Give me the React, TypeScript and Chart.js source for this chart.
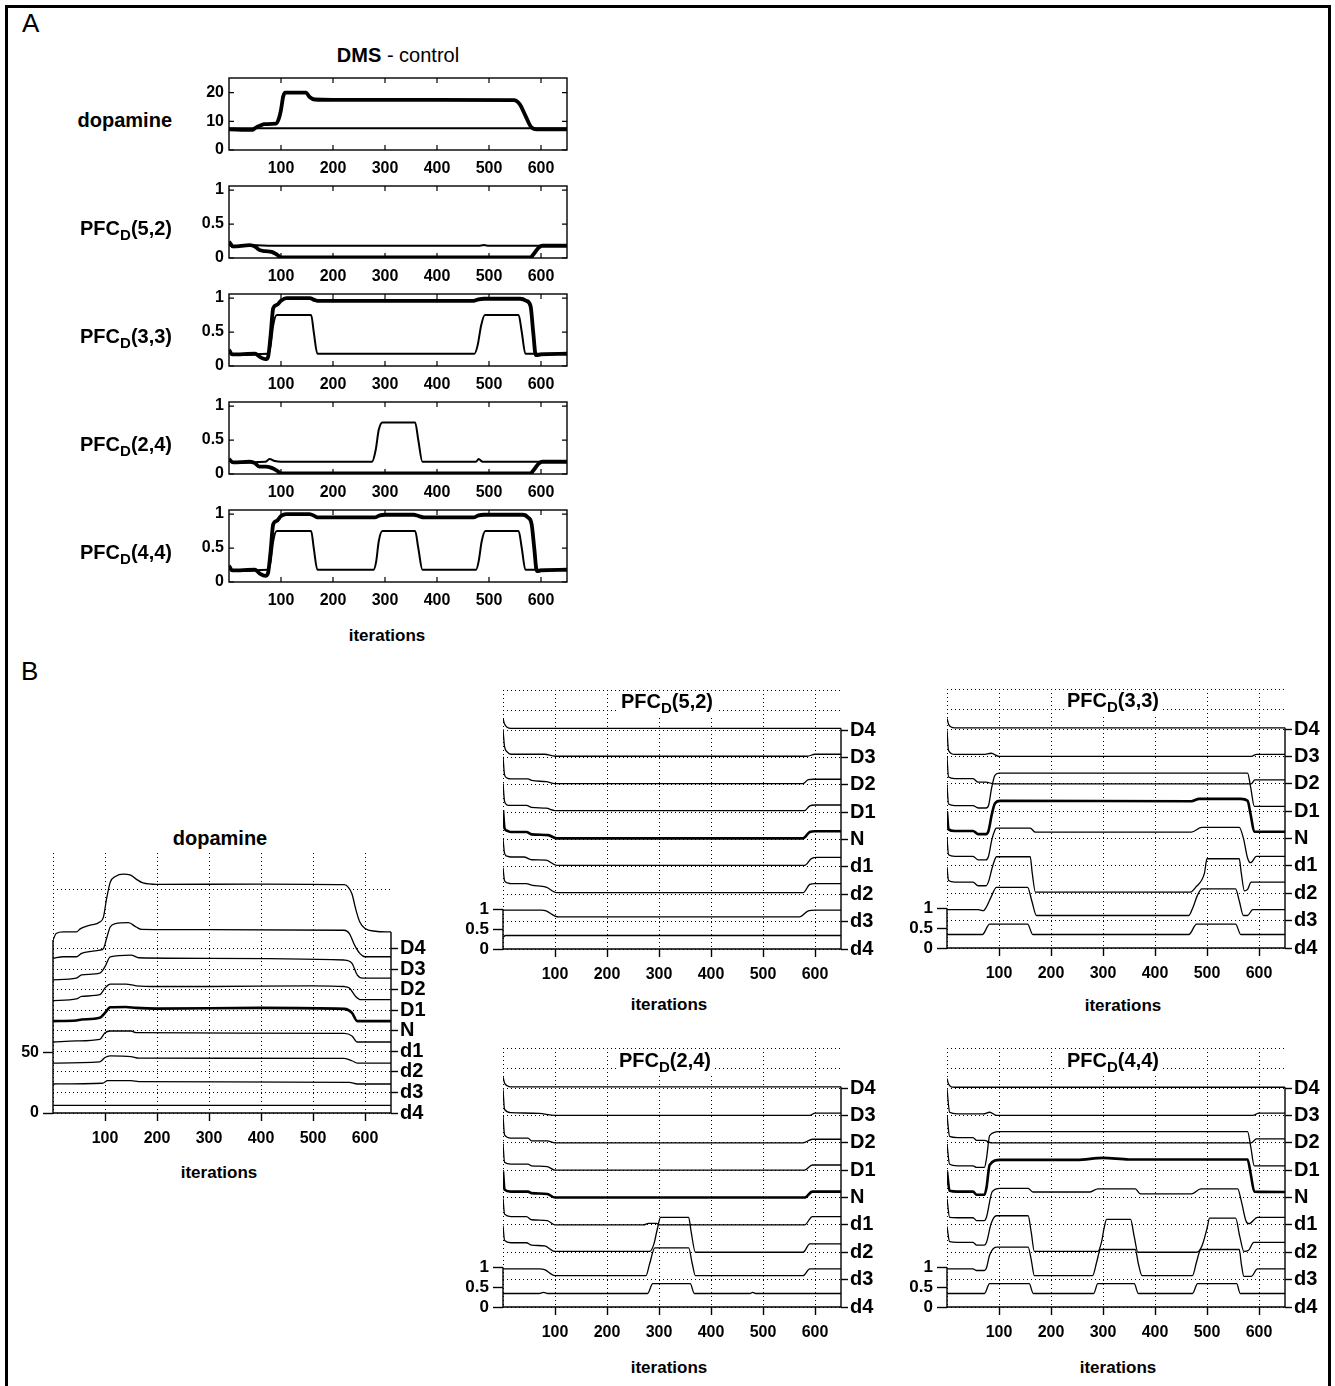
import React, { useEffect, useRef } from 'react';
import { Chart, registerables } from 'chart.js';
Chart.register(...registerables);

const FONT = "'Liberation Sans', Arial, Helvetica, sans-serif";

// ---------------- shared ticks ----------------
const ITER_TICKS = [100, 200, 300, 400, 500, 600];
const A_DOPA_TICKS = [0, 10, 20];
const A_PFC_TICKS = [0, 0.5, 1];
const B_DOPA_LEFT_TICKS = [0, 50];
const B_PFC_LEFT_TICKS = [0, 0.5, 1];
const B_LABELS = ['d4', 'd3', 'd2', 'd1', 'N', 'D1', 'D2', 'D3', 'D4'];
const B_DOPA_OFFSETS = [0, 17, 34, 51, 68, 85, 102, 119, 136];
const B_PFC_OFFSETS = [0, 0.69, 1.38, 2.07, 2.76, 3.45, 4.14, 4.83, 5.52];
const B_DOPA_EXTRA = [185];
const B_PFC_EXTRA = [6.02, 6.53];

// ---------------- Panel A data ----------------
const A_DOPA_THICK = { x: [0, 45, 50, 60, 68, 90, 96, 100, 104, 108, 148, 155, 165, 200, 400, 548, 559, 570, 581, 592, 650], y: [7.2, 7.0, 7.6, 8.5, 9.0, 9.2, 11, 14, 18.5, 20, 20, 18.5, 17.6, 17.5, 17.5, 17.4, 16, 12, 8, 7.2, 7.2] };
const A_DOPA_THIN = { x: [0, 650], y: [7.6, 7.6] };

const A_P52_THICK = { x: [0, 8, 40, 50, 58, 70, 82, 92, 100, 580, 586, 595, 602, 650], y: [0.24, 0.17, 0.19, 0.17, 0.12, 0.1, 0.09, 0.05, 0.01, 0.01, 0.06, 0.15, 0.18, 0.18] };
const A_P52_THIN = { x: [0, 8, 30, 100, 300, 480, 490, 500, 650], y: [0.2, 0.16, 0.19, 0.18, 0.18, 0.18, 0.19, 0.18, 0.18] };

const A_P33_THICK = { x: [0, 6, 50, 60, 70, 75, 80, 85, 92, 100, 110, 155, 165, 170, 470, 480, 490, 560, 572, 580, 585, 590, 600, 650], y: [0.24, 0.17, 0.18, 0.13, 0.1, 0.13, 0.45, 0.85, 0.9, 0.96, 1.0, 1.0, 0.97, 0.96, 0.96, 0.98, 0.99, 0.99, 0.96, 0.88, 0.5, 0.16, 0.17, 0.18] };
const A_P33_THIN = { x: [0, 8, 75, 80, 85, 92, 158, 163, 170, 472, 478, 485, 492, 557, 563, 570, 650], y: [0.2, 0.17, 0.18, 0.3, 0.6, 0.75, 0.75, 0.5, 0.18, 0.18, 0.3, 0.6, 0.75, 0.75, 0.5, 0.18, 0.18] };

const A_P24_THICK = { x: [0, 8, 40, 50, 58, 70, 82, 92, 100, 580, 586, 595, 602, 650], y: [0.22, 0.17, 0.18, 0.16, 0.11, 0.11, 0.09, 0.05, 0.01, 0.01, 0.06, 0.15, 0.18, 0.18] };
const A_P24_THIN = { x: [0, 8, 70, 78, 88, 100, 275, 282, 288, 295, 358, 364, 372, 475, 480, 488, 650], y: [0.2, 0.17, 0.18, 0.22, 0.19, 0.18, 0.18, 0.35, 0.65, 0.76, 0.76, 0.5, 0.18, 0.18, 0.22, 0.18, 0.18] };

const A_P44_THICK = { x: [0, 6, 50, 60, 70, 75, 80, 85, 92, 100, 110, 155, 165, 170, 280, 290, 300, 355, 365, 375, 470, 480, 490, 565, 575, 582, 587, 592, 600, 650], y: [0.24, 0.17, 0.18, 0.12, 0.09, 0.13, 0.45, 0.85, 0.9, 0.97, 1.0, 1.0, 0.97, 0.95, 0.95, 0.98, 0.99, 0.99, 0.97, 0.95, 0.95, 0.98, 0.99, 0.99, 0.95, 0.85, 0.5, 0.16, 0.17, 0.18] };
const A_P44_THIN = { x: [0, 8, 75, 80, 85, 92, 158, 163, 170, 278, 283, 288, 295, 358, 364, 372, 475, 480, 486, 493, 557, 563, 570, 650], y: [0.2, 0.17, 0.18, 0.3, 0.6, 0.75, 0.75, 0.5, 0.18, 0.18, 0.3, 0.6, 0.75, 0.75, 0.5, 0.18, 0.18, 0.3, 0.6, 0.75, 0.75, 0.5, 0.18, 0.18] };

// ---------------- Panel B: dopamine (values relative to each trace's offset) ----------------
const BDA_d4 = { x: [0, 650], y: [6.3, 6.3] };
const BDA_d3 = { x: [0, 95, 105, 150, 165, 570, 585, 650], y: [7, 7.6, 9.8, 9.8, 9, 8.4, 7, 7] };
const BDA_d2 = { x: [0, 90, 100, 110, 150, 165, 560, 575, 585, 650], y: [7.3, 8.3, 11.9, 13.3, 12.7, 11.4, 11.1, 9.2, 7.3, 7.3] };
const BDA_d1 = { x: [0, 45, 90, 100, 110, 150, 160, 560, 575, 585, 650], y: [7.7, 8.6, 9.9, 15.4, 16.8, 16.8, 15.4, 14.8, 12.7, 7.7, 7.7] };
const BDA_N = { x: [0, 45, 55, 90, 100, 110, 140, 160, 200, 400, 560, 575, 585, 650], y: [8, 8.5, 9.3, 10.7, 14.8, 19.4, 19.7, 18.9, 18.3, 18.9, 18.1, 14.8, 8, 8] };
const BDA_D1 = { x: [0, 45, 55, 90, 100, 110, 140, 160, 200, 300, 500, 560, 570, 582, 592, 650], y: [7.9, 9.3, 11.4, 12.8, 18.3, 21.6, 21.6, 20.2, 19.6, 19.6, 20.2, 19.6, 18.3, 11.4, 8.7, 8.7] };
const BDA_D2 = { x: [0, 45, 55, 90, 100, 110, 150, 165, 300, 560, 575, 585, 595, 650], y: [8.1, 9.5, 12.2, 13.6, 19, 27.2, 28.6, 26.4, 25.9, 24.5, 21.8, 12.2, 9.5, 9.5] };
const BDA_D3 = { x: [0, 20, 45, 55, 90, 97, 103, 110, 120, 145, 160, 170, 300, 560, 570, 580, 590, 600, 650], y: [8.9, 10.2, 10.2, 13, 15.7, 17, 25.3, 34.8, 37.6, 38.4, 34.8, 32.9, 32.6, 32.1, 29.4, 19.8, 13, 10.2, 10.2] };
const BDA_D4 = { x: [0, 6, 20, 45, 53, 70, 90, 97, 103, 110, 120, 135, 148, 160, 173, 200, 400, 560, 568, 575, 582, 590, 600, 620, 650], y: [6.9, 12.4, 13.7, 13.7, 16.5, 19.2, 21.9, 26, 41, 54.7, 59.6, 61.5, 61, 57.4, 54.2, 53, 53.3, 52.8, 50.6, 45.1, 32.9, 21.9, 16.5, 14.3, 13.7] };

// ---------------- Panel B: PFC_D(5,2) ----------------
const B52_d4 = { x: [0, 5, 650], y: [0.3, 0.34, 0.34] };
const B52_d3 = { x: [0, 74, 83, 100, 108, 570, 587, 600, 650], y: [0.29, 0.29, 0.27, 0.14, 0.12, 0.12, 0.27, 0.29, 0.29] };
const B52_d2 = { x: [0, 3, 8, 15, 45, 55, 83, 103, 577, 590, 600, 650], y: [0.67, 0.34, 0.29, 0.27, 0.27, 0.23, 0.18, 0.04, 0.04, 0.25, 0.27, 0.27] };
const B52_d1 = { x: [0, 3, 8, 15, 40, 55, 83, 103, 580, 593, 605, 650], y: [0.71, 0.34, 0.27, 0.25, 0.25, 0.18, 0.17, 0.04, 0.04, 0.21, 0.24, 0.24] };
const B52_N = { x: [0, 3, 8, 15, 45, 55, 87, 103, 577, 590, 600, 650], y: [0.74, 0.28, 0.22, 0.19, 0.19, 0.13, 0.11, 0.03, 0.03, 0.19, 0.21, 0.21] };
const B52_D1 = { x: [0, 3, 8, 15, 45, 55, 83, 100, 580, 590, 600, 650], y: [0.73, 0.27, 0.18, 0.17, 0.17, 0.12, 0.1, 0.04, 0.04, 0.16, 0.18, 0.18] };
const B52_D2 = { x: [0, 3, 8, 15, 48, 55, 83, 100, 577, 587, 596, 650], y: [0.71, 0.25, 0.17, 0.15, 0.15, 0.11, 0.08, 0.03, 0.03, 0.13, 0.14, 0.14] };
const B52_D3 = { x: [0, 3, 8, 15, 80, 100, 585, 600, 650], y: [0.71, 0.27, 0.14, 0.08, 0.08, 0.03, 0.03, 0.08, 0.08] };
const B52_D4 = { x: [0, 3, 8, 15, 650], y: [0.3, 0.15, 0.07, 0.04, 0.04] };

// ---------------- Panel B: PFC_D(3,3) ----------------
const B33_d4 = { x: [0, 68, 82, 155, 165, 465, 480, 555, 565, 650], y: [0.34, 0.34, 0.6, 0.6, 0.34, 0.34, 0.6, 0.6, 0.34, 0.34] };
const B33_d3 = { x: [0, 60, 70, 76, 86, 95, 155, 163, 172, 465, 472, 482, 490, 555, 562, 570, 578, 588, 650], y: [0.28, 0.28, 0.25, 0.35, 0.63, 0.84, 0.84, 0.5, 0.13, 0.13, 0.3, 0.65, 0.8, 0.8, 0.5, 0.13, 0.13, 0.28, 0.28] };
const B33_d2 = { x: [0, 3, 15, 50, 60, 75, 80, 86, 92, 95, 160, 164, 170, 468, 478, 495, 500, 562, 566, 572, 578, 585, 650], y: [0.66, 0.32, 0.28, 0.28, 0.19, 0.19, 0.3, 0.6, 0.85, 0.92, 0.92, 0.5, 0.03, 0.03, 0.15, 0.5, 0.87, 0.87, 0.5, 0.06, 0.1, 0.28, 0.28] };
const B33_d1 = { x: [0, 3, 15, 50, 60, 75, 80, 86, 92, 95, 160, 170, 470, 490, 562, 570, 578, 584, 595, 650], y: [0.7, 0.28, 0.24, 0.24, 0.15, 0.15, 0.25, 0.65, 0.9, 0.95, 0.95, 0.85, 0.85, 0.97, 0.97, 0.7, 0.2, 0.08, 0.24, 0.24] };
const B33_N = { x: [0, 3, 15, 50, 60, 75, 80, 86, 92, 102, 470, 485, 565, 578, 584, 591, 650], y: [0.67, 0.23, 0.19, 0.19, 0.11, 0.11, 0.2, 0.6, 0.88, 0.95, 0.94, 1.0, 1.0, 0.95, 0.6, 0.17, 0.17] };
const B33_D1 = { x: [0, 3, 15, 50, 60, 75, 80, 86, 92, 100, 578, 584, 591, 650], y: [0.67, 0.18, 0.14, 0.14, 0.08, 0.08, 0.15, 0.6, 0.9, 0.96, 0.96, 0.6, 0.12, 0.12] };
const B33_D2 = { x: [0, 3, 15, 50, 60, 75, 90, 585, 592, 650], y: [0.67, 0.17, 0.13, 0.13, 0.04, 0.04, 0.0, 0.0, 0.1, 0.1] };
const B33_D3 = { x: [0, 3, 15, 70, 85, 100, 585, 595, 650], y: [0.66, 0.15, 0.05, 0.05, 0.08, 0.0, 0.0, 0.05, 0.05] };
const B33_D4 = { x: [0, 3, 8, 15, 650], y: [0.27, 0.12, 0.05, 0.03, 0.03] };

// ---------------- Panel B: PFC_D(2,4) ----------------
const B24_d4 = { x: [0, 70, 78, 86, 278, 288, 360, 368, 475, 480, 486, 650], y: [0.34, 0.34, 0.37, 0.34, 0.34, 0.59, 0.59, 0.34, 0.34, 0.37, 0.34, 0.34] };
const B24_d3 = { x: [0, 70, 80, 100, 275, 282, 292, 357, 364, 370, 577, 590, 650], y: [0.27, 0.27, 0.25, 0.1, 0.1, 0.4, 0.8, 0.8, 0.4, 0.1, 0.1, 0.27, 0.27] };
const B24_d2 = { x: [0, 3, 15, 45, 55, 80, 100, 282, 290, 297, 303, 357, 362, 370, 577, 590, 650], y: [0.67, 0.3, 0.24, 0.24, 0.18, 0.16, 0.02, 0.02, 0.2, 0.6, 0.88, 0.88, 0.5, 0.0, 0.0, 0.21, 0.21] };
const B24_d1 = { x: [0, 3, 15, 45, 55, 85, 100, 270, 280, 295, 300, 580, 595, 650], y: [0.67, 0.27, 0.21, 0.21, 0.13, 0.11, 0, 0, 0.04, 0.04, 0, 0, 0.21, 0.21] };
const B24_N = { x: [0, 3, 15, 48, 55, 85, 100, 580, 595, 650], y: [0.66, 0.2, 0.15, 0.15, 0.11, 0.09, 0, 0, 0.15, 0.15] };
const B24_D1 = { x: [0, 3, 15, 48, 55, 85, 100, 580, 595, 650], y: [0.67, 0.2, 0.15, 0.15, 0.11, 0.09, 0, 0, 0.13, 0.13] };
const B24_D2 = { x: [0, 3, 15, 48, 55, 85, 100, 577, 595, 650], y: [0.68, 0.2, 0.12, 0.12, 0.05, 0.05, 0, 0, 0.09, 0.09] };
const B24_D3 = { x: [0, 3, 15, 70, 100, 590, 600, 650], y: [0.66, 0.15, 0.07, 0.05, 0.0, 0.0, 0.06, 0.06] };
const B24_D4 = { x: [0, 3, 8, 15, 650], y: [0.28, 0.13, 0.06, 0.03, 0.03] };

// ---------------- Panel B: PFC_D(4,4) ----------------
const B44_d4 = { x: [0, 72, 82, 158, 166, 282, 290, 360, 368, 472, 482, 557, 564, 650], y: [0.34, 0.34, 0.59, 0.59, 0.34, 0.34, 0.59, 0.59, 0.34, 0.34, 0.59, 0.59, 0.34, 0.34] };
const B44_d3 = { x: [0, 50, 57, 72, 76, 82, 95, 156, 162, 168, 280, 288, 295, 362, 368, 375, 472, 480, 488, 562, 566, 571, 585, 597, 650], y: [0.27, 0.27, 0.23, 0.23, 0.3, 0.62, 0.82, 0.82, 0.5, 0.1, 0.1, 0.45, 0.76, 0.76, 0.4, 0.1, 0.1, 0.45, 0.76, 0.76, 0.4, 0.08, 0.08, 0.27, 0.27] };
const B44_d2 = { x: [0, 5, 20, 50, 57, 72, 76, 85, 95, 156, 162, 168, 290, 297, 302, 307, 353, 360, 367, 480, 490, 500, 505, 555, 563, 571, 580, 590, 650], y: [0.65, 0.27, 0.25, 0.25, 0.18, 0.18, 0.25, 0.73, 0.92, 0.92, 0.5, 0.02, 0.02, 0.25, 0.6, 0.83, 0.83, 0.4, 0.0, 0.0, 0.15, 0.6, 0.86, 0.86, 0.4, 0.02, 0.05, 0.25, 0.25] };
const B44_d1 = { x: [0, 5, 20, 50, 57, 72, 76, 87, 102, 156, 165, 275, 290, 362, 372, 470, 488, 559, 566, 575, 581, 597, 650], y: [0.66, 0.19, 0.18, 0.18, 0.11, 0.11, 0.2, 0.84, 0.92, 0.92, 0.83, 0.83, 0.91, 0.91, 0.78, 0.78, 0.91, 0.91, 0.6, 0.1, 0.03, 0.19, 0.19] };
const B44_N = { x: [0, 5, 20, 50, 57, 72, 76, 82, 102, 250, 300, 350, 578, 584, 591, 650], y: [0.66, 0.17, 0.15, 0.15, 0.07, 0.07, 0.25, 0.82, 0.95, 0.95, 1.0, 0.96, 0.96, 0.6, 0.15, 0.14] };
const B44_D1 = { x: [0, 5, 20, 50, 57, 72, 76, 82, 100, 578, 584, 591, 650], y: [0.66, 0.15, 0.11, 0.11, 0.07, 0.07, 0.3, 0.87, 0.97, 0.97, 0.6, 0.11, 0.11] };
const B44_D2 = { x: [0, 5, 20, 50, 57, 72, 85, 585, 595, 650], y: [0.69, 0.16, 0.13, 0.13, 0.06, 0.06, 0, 0, 0.1, 0.1] };
const B44_D3 = { x: [0, 5, 20, 70, 82, 95, 588, 600, 650], y: [0.67, 0.08, 0.04, 0.04, 0.08, 0.0, 0.0, 0.06, 0.06] };
const B44_D4 = { x: [0, 3, 8, 15, 650], y: [0.24, 0.1, 0.03, 0.02, 0.02] };

// ---------------- helpers ----------------
type Series = { x: number[]; y: number[] };
const pts = (s: Series, off = 0) => s.x.map((x, i) => ({ x, y: s.y[i] + off }));
const tickFont = (size: number) => ({ family: FONT, size, weight: 'bold' as const });
const CLEAR = 'rgba(0,0,0,0)';
const noPad = (s: any) => { s.paddingTop = 0; s.paddingBottom = 0; s.paddingLeft = 0; s.paddingRight = 0; };

const boxPluginA = {
  id: 'boxA',
  afterDraw(chart: any) {
    const { ctx, chartArea: a, scales } = chart;
    ctx.save();
    ctx.strokeStyle = '#000';
    ctx.lineWidth = 1.4;
    ctx.strokeRect(a.left, a.top, a.right - a.left, a.bottom - a.top);
    ctx.lineWidth = 1.2;
    ctx.beginPath();
    for (const t of scales.x.ticks) {
      const px = scales.x.getPixelForValue(t.value);
      ctx.moveTo(px, a.bottom); ctx.lineTo(px, a.bottom - 5);
      ctx.moveTo(px, a.top); ctx.lineTo(px, a.top + 5);
    }
    for (const t of scales.y.ticks) {
      const py = scales.y.getPixelForValue(t.value);
      ctx.moveTo(a.left, py); ctx.lineTo(a.left + 5, py);
      ctx.moveTo(a.right, py); ctx.lineTo(a.right - 5, py);
    }
    ctx.stroke();
    ctx.restore();
  },
};

function makeA(thick: Series, thin: Series, yMax: number, yTicks: number[]) {
  return {
    type: 'line',
    data: {
      datasets: [
        { data: pts(thin), borderColor: '#000', borderWidth: 2, pointRadius: 0, cubicInterpolationMode: 'monotone' },
        { data: pts(thick), borderColor: '#000', borderWidth: 3.8, pointRadius: 0, cubicInterpolationMode: 'monotone' },
      ],
    },
    options: {
      responsive: false,
      animation: false,
      events: [],
      layout: { padding: { top: 6, right: 10, left: 0, bottom: 0 } },
      plugins: { legend: { display: false }, tooltip: { enabled: false } },
      scales: {
        x: {
          type: 'linear', min: 0, max: 650,
          afterBuildTicks: (s: any) => { s.ticks = ITER_TICKS.map((v) => ({ value: v })); },
          afterFit: (s: any) => { s.height = 32; noPad(s); },
          grid: { display: false, drawTicks: false, tickLength: 0 },
          border: { display: false },
          ticks: { font: tickFont(16), color: '#000', padding: 9, maxRotation: 0, autoSkip: false, callback: (v: any) => String(v) },
        },
        y: {
          type: 'linear', min: 0, max: yMax,
          afterBuildTicks: (s: any) => { s.ticks = yTicks.map((v) => ({ value: v })); },
          afterFit: (s: any) => { s.width = 50; noPad(s); },
          grid: { display: false, drawTicks: false, tickLength: 0 },
          border: { display: false },
          ticks: { font: tickFont(16), color: '#000', padding: 5, autoSkip: false, callback: (v: any) => String(v) },
        },
      },
    },
    plugins: [boxPluginA],
  };
}

function axesPluginB(leftTop: number, rightTop: number) {
  return {
    id: 'axesB',
    afterDraw(chart: any) {
      const { ctx, chartArea: a, scales } = chart;
      const y = scales.y;
      ctx.save();
      ctx.strokeStyle = '#000';
      ctx.lineWidth = 1.4;
      ctx.setLineDash([]);
      ctx.beginPath();
      ctx.moveTo(a.left, a.bottom); ctx.lineTo(a.right, a.bottom);
      ctx.moveTo(a.left, a.bottom); ctx.lineTo(a.left, y.getPixelForValue(leftTop));
      ctx.moveTo(a.right, a.bottom); ctx.lineTo(a.right, y.getPixelForValue(rightTop));
      ctx.stroke();
      ctx.restore();
    },
  };
}

function makeB(traces: Series[], offsets: number[], yMax: number, leftTicks: number[], extra: number[], leftTop: number, leftFont: number) {
  const rightTicks = [...offsets, ...extra];
  const top = traces[traces.length - 1];
  const rightTop = top.y[top.y.length - 1] + offsets[offsets.length - 1];
  return {
    type: 'line',
    data: {
      datasets: traces.map((t, i) => ({
        data: pts(t, offsets[i]),
        borderColor: '#000',
        borderWidth: B_LABELS[i] === 'N' ? 2.6 : 1.3,
        pointRadius: 0,
        cubicInterpolationMode: 'monotone',
      })),
    },
    options: {
      responsive: false,
      animation: false,
      events: [],
      layout: { padding: { top: 2, right: 0, left: 0, bottom: 0 } },
      plugins: { legend: { display: false }, tooltip: { enabled: false } },
      scales: {
        x: {
          type: 'linear', min: 0, max: 650,
          afterBuildTicks: (s: any) => { s.ticks = [0, ...ITER_TICKS].map((v) => ({ value: v })); },
          afterFit: (s: any) => { s.height = 38; noPad(s); },
          grid: {
            display: true, drawOnChartArea: true, drawTicks: true, tickLength: 8,
            color: '#000', lineWidth: 1,
            tickColor: (c: any) => (c.tick && c.tick.value === 0 ? CLEAR : '#000'),
            tickWidth: 1.4, tickBorderDash: [],
          },
          border: { display: false, dash: [1, 3] },
          ticks: { font: tickFont(16), color: '#000', padding: 8, maxRotation: 0, autoSkip: false, callback: (v: any) => (v === 0 ? '' : String(v)) },
        },
        y: {
          type: 'linear', position: 'left', min: 0, max: yMax,
          afterBuildTicks: (s: any) => { s.ticks = leftTicks.map((v) => ({ value: v })); },
          afterFit: (s: any) => { s.width = 50; noPad(s); },
          grid: { display: true, drawOnChartArea: false, drawTicks: true, tickLength: 10, color: '#000', tickColor: '#000', tickWidth: 1.4 },
          border: { display: false },
          ticks: { font: tickFont(leftFont), color: '#000', padding: 4, autoSkip: false, callback: (v: any) => String(v) },
        },
        y2: {
          type: 'linear', position: 'right', min: 0, max: yMax,
          afterBuildTicks: (s: any) => { s.ticks = rightTicks.map((v) => ({ value: v })); },
          afterFit: (s: any) => { s.width = 45; noPad(s); },
          grid: {
            display: true, drawOnChartArea: true, drawTicks: true, tickLength: 7,
            color: '#000', lineWidth: 1,
            tickColor: (c: any) => (c.index < B_LABELS.length ? '#000' : CLEAR),
            tickWidth: 1.4, tickBorderDash: [],
          },
          border: { display: false, dash: [1, 3] },
          ticks: { font: tickFont(20), color: '#000', padding: 2, autoSkip: false, callback: (_v: any, i: number) => (i < B_LABELS.length ? B_LABELS[i] : '') },
        },
      },
    },
    plugins: [axesPluginB(leftTop, rightTop)],
  };
}

function ChartCanvas({ left, top, width, height, config }: any) {
  const ref = useRef<HTMLCanvasElement>(null);
  useEffect(() => {
    const chart = new Chart(ref.current as HTMLCanvasElement, config);
    return () => chart.destroy();
  }, []);
  return <canvas ref={ref} width={width} height={height} style={{ position: 'absolute', left, top, width, height }} />;
}

function Text({ x, baseline, size = 20, weight = 'bold', align = 'center', bg, children }: any) {
  const tx = align === 'center' ? 'translateX(-50%)' : align === 'right' ? 'translateX(-100%)' : 'none';
  return (
    <div
      style={{
        position: 'absolute', left: x, top: baseline - 0.8465 * size,
        font: `${weight} ${size}px ${FONT}`, lineHeight: `${size}px`, whiteSpace: 'nowrap',
        transform: tx, color: '#000',
        background: bg || 'transparent', padding: bg ? '0 3px 5px 3px' : 0,
      }}
    >
      {children}
    </div>
  );
}

const Sub = ({ children }: any) => (
  <span style={{ fontSize: '0.75em', verticalAlign: '-0.32em', lineHeight: 0 }}>{children}</span>
);
const PfcName = ({ id }: any) => (<>PFC<Sub>D</Sub>{id}</>);

const A_ROWS = [
  { label: <>dopamine</>, thick: A_DOPA_THICK, thin: A_DOPA_THIN, yMax: 25.1, ticks: A_DOPA_TICKS },
  { label: <PfcName id="(5,2)" />, thick: A_P52_THICK, thin: A_P52_THIN, yMax: 1.06, ticks: A_PFC_TICKS },
  { label: <PfcName id="(3,3)" />, thick: A_P33_THICK, thin: A_P33_THIN, yMax: 1.06, ticks: A_PFC_TICKS },
  { label: <PfcName id="(2,4)" />, thick: A_P24_THICK, thin: A_P24_THIN, yMax: 1.06, ticks: A_PFC_TICKS },
  { label: <PfcName id="(4,4)" />, thick: A_P44_THICK, thin: A_P44_THIN, yMax: 1.06, ticks: A_PFC_TICKS },
];

const B_DOPA = [BDA_d4, BDA_d3, BDA_d2, BDA_d1, BDA_N, BDA_D1, BDA_D2, BDA_D3, BDA_D4];
const B_P52 = [B52_d4, B52_d3, B52_d2, B52_d1, B52_N, B52_D1, B52_D2, B52_D3, B52_D4];
const B_P33 = [B33_d4, B33_d3, B33_d2, B33_d1, B33_N, B33_D1, B33_D2, B33_D3, B33_D4];
const B_P24 = [B24_d4, B24_d3, B24_d2, B24_d1, B24_N, B24_D1, B24_D2, B24_D3, B24_D4];
const B_P44 = [B44_d4, B44_d3, B44_d2, B44_d1, B44_N, B44_D1, B44_D2, B44_D3, B44_D4];

const PFC_B = [
  { id: '(5,2)', traces: B_P52, left: 453, top: 688, titleX: 667, titleBase: 708, itX: 669, itBase: 1010 },
  { id: '(3,3)', traces: B_P33, left: 897, top: 687, titleX: 1113, titleBase: 707, itX: 1123, itBase: 1011 },
  { id: '(2,4)', traces: B_P24, left: 453, top: 1046, titleX: 665, titleBase: 1067, itX: 669, itBase: 1373 },
  { id: '(4,4)', traces: B_P44, left: 897, top: 1046, titleX: 1113, titleBase: 1067, itX: 1118, itBase: 1373 },
];

export default function App() {
  return (
    <div style={{ position: 'absolute', left: 0, top: 0, width: 1335, height: 1386, overflow: 'hidden', background: '#fff' }}>
      {/* Panel A */}
      {A_ROWS.map((r, i) => {
        const zeroY = 150 + 108 * i;
        return (
          <React.Fragment key={'a' + i}>
            <ChartCanvas left={179} top={zeroY - 78} width={398} height={110} config={makeA(r.thick, r.thin, r.yMax, r.ticks)} />
            <Text x={172} baseline={zeroY - 23} align="right">{r.label}</Text>
          </React.Fragment>
        );
      })}
      <Text x={22} baseline={32} size={26} weight="normal" align="left">A</Text>
      <Text x={398} baseline={62}>DMS<span style={{ fontWeight: 'normal' }}> - control</span></Text>
      <Text x={387} baseline={641} size={17}>iterations</Text>

      {/* Panel B */}
      <Text x={21} baseline={680} size={26} weight="normal" align="left">B</Text>
      <ChartCanvas left={3} top={851} width={433} height={300}
        config={makeB(B_DOPA, B_DOPA_OFFSETS, 215, B_DOPA_LEFT_TICKS, B_DOPA_EXTRA, 143, 16)} />
      <Text x={220} baseline={845}>dopamine</Text>
      <Text x={219} baseline={1178} size={17}>iterations</Text>

      {PFC_B.map((p) => (
        <React.Fragment key={p.id}>
          <ChartCanvas left={p.left} top={p.top} width={433} height={299}
            config={makeB(p.traces, B_PFC_OFFSETS, 6.53, B_PFC_LEFT_TICKS, B_PFC_EXTRA, 1, 17)} />
          <Text x={p.titleX} baseline={p.titleBase} bg="#fff"><PfcName id={p.id} /></Text>
          <Text x={p.itX} baseline={p.itBase} size={17}>iterations</Text>
        </React.Fragment>
      ))}

      {/* frame */}
      <div style={{ position: 'absolute', left: 5, top: 5, width: 1320, height: 1400, borderTop: '3px solid #000', borderLeft: '3px solid #000', borderRight: '3px solid #000', pointerEvents: 'none' }} />
    </div>
  );
}
